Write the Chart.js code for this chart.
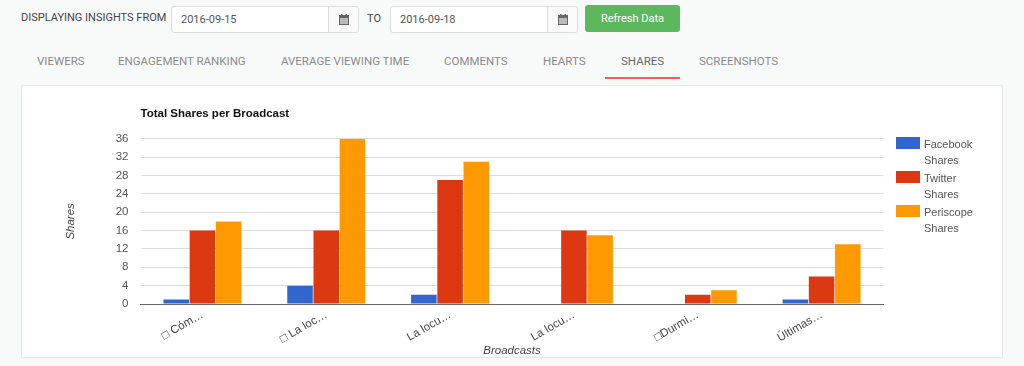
<!DOCTYPE html>
<html><head><meta charset="utf-8">
<script src="https://cdn.jsdelivr.net/npm/chart.js@4/dist/chart.umd.min.js"></script>
<style>
html,body{margin:0;padding:0;width:1024px;height:366px;overflow:hidden;background:#f8fafa;font-family:Roboto,sans-serif}
.a{position:absolute;white-space:nowrap}
.lbl{font-size:11px;color:#444;line-height:16px}
.inp{height:25px;width:186px;background:#fff;border:1px solid #ddd;border-radius:3px;box-sizing:content-box}
.inp span{position:absolute;left:9px;top:5px;font-size:11px;line-height:16px;color:#555}
.inp i{position:absolute;right:0;top:0;width:29px;height:25px;border-left:1px solid #ddd;background:#fafafa;border-radius:0 3px 3px 0}
.inp svg{position:absolute;left:10px;top:7px}
.btn{left:585px;top:5px;width:95px;height:27px;background:#5cb85c;border-radius:3px;color:#fff;font-size:11px;line-height:27px;text-align:center}
.tab{top:53px;font-size:11.5px;line-height:16px;color:#8a8a8a}
.under{left:605px;top:77px;width:75px;height:2px;background:#f0624d}
.card{left:21px;top:85px;width:980px;height:271px;background:#fff;border:1px solid #e8e8e8}
#wrap{left:22px;top:86px;width:979px;height:272px}
#lg{left:896px;top:136px;font:11px/16px "Liberation Sans",Arial,sans-serif;color:#555}
#lg div{position:relative;padding-left:28px;width:60px;height:32px;margin-bottom:2px}
#lg b{position:absolute;left:0;top:1px;width:24px;height:12px}
</style></head><body>
<div class="a lbl" style="left:21px;top:10px">DISPLAYING INSIGHTS FROM</div>
<div class="a inp" style="left:171px;top:6px"><span>2016-09-15</span><i><svg width="10" height="11" viewBox="0 0 10 11"><rect y="1" width="10" height="10" fill="#666"/><rect x="1" y="4" width="8" height="6" fill="#bbb"/><rect x="2" width="1.5" height="2" fill="#666"/><rect x="6.5" width="1.5" height="2" fill="#666"/></svg></i></div>
<div class="a lbl" style="left:367px;top:11px">TO</div>
<div class="a inp" style="left:390px;top:6px"><span>2016-09-18</span><i><svg width="10" height="11" viewBox="0 0 10 11"><rect y="1" width="10" height="10" fill="#666"/><rect x="1" y="4" width="8" height="6" fill="#bbb"/><rect x="2" width="1.5" height="2" fill="#666"/><rect x="6.5" width="1.5" height="2" fill="#666"/></svg></i></div>
<div class="a btn">Refresh Data</div>
<div class="a tab" style="left:37px">VIEWERS</div>
<div class="a tab" style="left:118px">ENGAGEMENT RANKING</div>
<div class="a tab" style="left:281px">AVERAGE VIEWING TIME</div>
<div class="a tab" style="left:444px">COMMENTS</div>
<div class="a tab" style="left:543px">HEARTS</div>
<div class="a tab" style="left:621px;color:#666">SHARES</div>
<div class="a tab" style="left:699px">SCREENSHOTS</div>
<div class="a under"></div>
<div class="a card"></div>
<div class="a" id="wrap"><canvas id="c" width="979" height="272"></canvas></div>
<div class="a" id="lg"></div>
<script>
const categories = ["\u25A1 Cóm\u2026", "\u25A1 La loc\u2026", "La locu\u2026", "La locu\u2026", "\u25A1Durmi\u2026", "Últimas\u2026"];
const facebookShares = [1, 4, 2, 0, 0, 1];
const twitterShares = [16, 16, 27, 16, 2, 6];
const periscopeShares = [18, 36, 31, 15, 3, 13];
const seriesNames = [["Facebook", "Shares"], ["Twitter", "Shares"], ["Periscope", "Shares"]];
const seriesColors = ["#3366cc", "#dc3912", "#ff9900"];
const chartTitle = "Total Shares per Broadcast";
const yTitle = "Shares";
const xTitle = "Broadcasts";
const font = "'Liberation Sans', Arial, sans-serif";

const mk = (i, d) => ({label: seriesNames[i].join(" "), data: d, backgroundColor: seriesColors[i], borderWidth: 0, categoryPercentage: 0.635, barPercentage: 0.975});

const chart = new Chart(document.getElementById("c"), {
  type: "bar",
  data: {labels: categories, datasets: [mk(0, facebookShares), mk(1, twitterShares), mk(2, periscopeShares)]},
  options: {
    responsive: false, animation: false,
    layout: {padding: {left: 41.5, right: 117.5, top: 0, bottom: 0}},
    plugins: {
      legend: {display: false},
      tooltip: {enabled: false},
      title: {display: true, text: chartTitle, align: "start", fullSize: false, color: "#111",
        font: {family: font, size: 11.5, weight: "bold"}, padding: {top: 21, bottom: 18}}
    },
    scales: {
      x: {
        grid: {display: false, drawTicks: false},
        border: {color: "#666", width: 1},
        ticks: {color: "#444", font: {family: font, size: 11.5}, minRotation: 30, maxRotation: 30, autoSkip: false, padding: 4},
        title: {display: true, text: xTitle, color: "#444", font: {family: font, size: 11.5, style: "italic"}, padding: 0},
        afterFit: s => { s.height = 54; }
      },
      y: {
        min: 0, max: 36,
        grid: {color: "#dddddd", drawTicks: false},
        border: {display: false},
        ticks: {stepSize: 4, color: "#555", font: {family: font, size: 11.5}, padding: 12},
        title: {display: true, text: yTitle, color: "#444", font: {family: font, size: 11.5, style: "italic"}, padding: 0},
        afterFit: s => { s.width = 77; }
      }
    }
  }
});
document.getElementById("lg").innerHTML = seriesNames.map((n, i) =>
  `<div><b style="background:${seriesColors[i]}"></b>${n.join("<br>")}</div>`).join("");
</script>
</body></html>
